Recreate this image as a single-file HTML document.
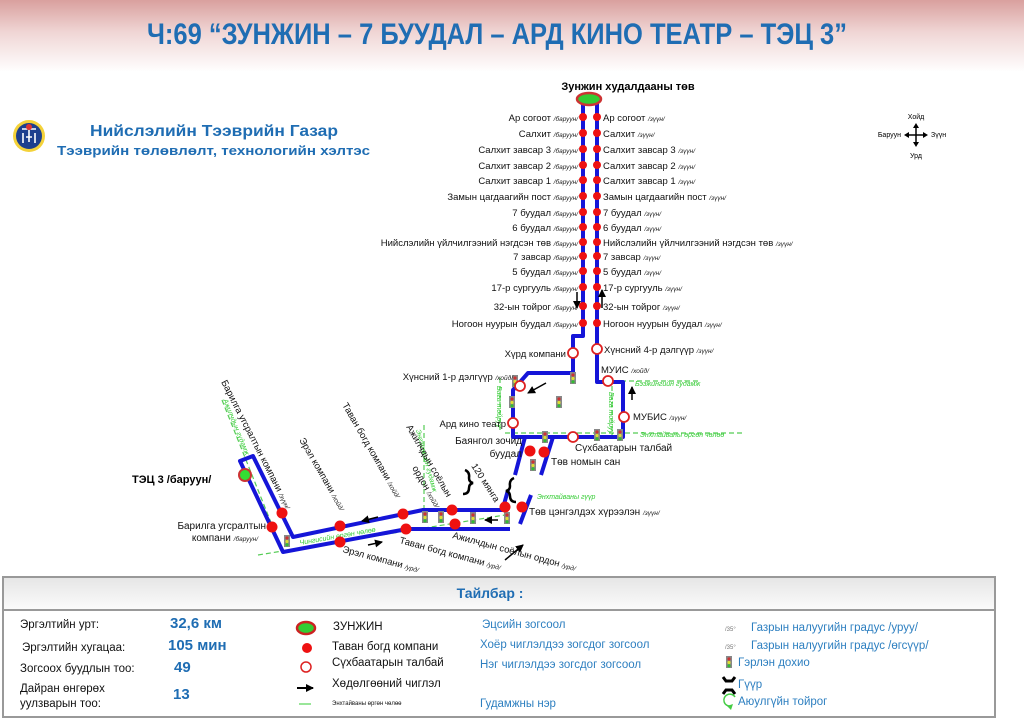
<!DOCTYPE html>
<html><head><meta charset="utf-8"><style>
html,body{margin:0;padding:0;background:#fff;width:1024px;height:721px;overflow:hidden}
svg{display:block}
text{font-family:"Liberation Sans",sans-serif}
.n{font-family:"Liberation Sans Narrow","Liberation Sans",sans-serif}
.l{font-size:9.5px;fill:#111}
.s{font-size:6.5px;font-style:italic;fill:#222}
.b{font-size:11px;fill:#111}
.g{font-size:7px;fill:#3c3;font-style:italic}
</style></head><body>
<svg width="1024" height="721" viewBox="0 0 1024 721" xmlns="http://www.w3.org/2000/svg">
<defs>
<linearGradient id="hd" x1="0" y1="0" x2="0" y2="1">
<stop offset="0" stop-color="#d9a09e"/><stop offset="0.45" stop-color="#f0d6d5"/><stop offset="1" stop-color="#ffffff"/>
</linearGradient>
<linearGradient id="lg" x1="0" y1="0" x2="0" y2="1">
<stop offset="0" stop-color="#e6e6e6"/><stop offset="1" stop-color="#fafafa"/>
</linearGradient>
<g id="tl"><rect x="-3" y="-6" width="6" height="12" fill="#888"/><circle cx="0" cy="-3" r="1.6" fill="#c33"/><circle cx="0" cy="0.5" r="1.6" fill="#dd3"/><circle cx="0" cy="3.8" r="1.6" fill="#3b3"/></g>
<marker id="ar" markerUnits="userSpaceOnUse" markerWidth="8" markerHeight="8" refX="7" refY="4" orient="auto"><path d="M0,0L8,4L0,8z" fill="#000"/></marker>
</defs>
<rect x="0" y="0" width="1024" height="72" fill="url(#hd)"/>
<text class="n" x="497" y="44" text-anchor="middle" font-size="30" font-weight="bold" fill="#1f6db3" textLength="700" lengthAdjust="spacingAndGlyphs">Ч:69 “ЗУНЖИН – 7 БУУДАЛ – АРД КИНО ТЕАТР – ТЭЦ 3”</text>

<!-- logo -->
<circle cx="29" cy="136" r="16" fill="#f4d23a"/><circle cx="29" cy="136" r="13" fill="#1d3f8e"/>
<path d="M22,129h14M23,133v10M35,133v10M26,137h6M29,130v12" stroke="#fff" stroke-width="1.6" fill="none"/>
<circle cx="29" cy="127" r="3" fill="#d33"/>
<text x="90" y="136" font-size="16" font-weight="bold" fill="#1f6db3" textLength="248" lengthAdjust="spacingAndGlyphs">Нийслэлийн Тээврийн Газар</text>
<text x="57" y="155" font-size="13" font-weight="bold" fill="#1f6db3" textLength="313" lengthAdjust="spacingAndGlyphs">Тээврийн төлөвлөлт, технологийн хэлтэс</text>

<!-- compass -->
<g transform="translate(916,135)">
<path d="M0,-9V9M-9,0H9" stroke="#000" stroke-width="1.5"/>
<path d="M0,-12l-3,5h6zM0,12l-3,-5h6zM-12,0l5,-3v6zM12,0l-5,-3v6z" fill="#000"/>
<text x="0" y="-16" font-size="7" text-anchor="middle">Хойд</text>
<text x="0" y="23" font-size="7" text-anchor="middle">Урд</text>
<text x="-15" y="2" font-size="7" text-anchor="end">Баруун</text>
<text x="15" y="2" font-size="7">Зүүн</text>
</g>

<!-- green dashed streets -->
<g stroke="#5c5" stroke-width="1.2" stroke-dasharray="5,3" fill="none">
<path d="M505,433H742"/>
<path d="M500,378V430"/>
<path d="M612,386V436"/>
<path d="M605,381H700"/>
<path d="M258,555L505,515"/>
<path d="M222,400L280,545"/>
<path d="M424,425V512"/>
</g>
<text class="g" x="635" y="386">Бээжингийн гудамж</text>
<text class="g" x="640" y="437">Энхтайваны өргөн чөлөө</text>
<text class="g" x="537" y="499">Энхтайваны гүүр</text>
<text class="g" transform="translate(497,386) rotate(90)">Бага тойруу</text>
<text class="g" transform="translate(609,392) rotate(90)">Бага тойруу</text>
<text class="g" transform="translate(300,545) rotate(-10)">Чингисийн өргөн чөлөө</text>
<text class="g" transform="translate(223,400) rotate(68)">Ажилчдын гудамж</text>
<text class="g" transform="translate(416,430) rotate(75)">Энгэльсийн гудамж</text>

<!-- route lines -->
<g stroke="#1515d8" stroke-width="4" fill="none" stroke-linejoin="round">
<path d="M583,100V336H573V373H528L513,390V437H623V382H597V100"/>
<path d="M525,437L515,475M508,490L503,508"/>
<path d="M553,437L541,475M531,495L520,524"/>
<path d="M505,510H423L293,537L253,456L240,461L283,552L407,529H510"/>
</g>
<path d="M465,470q5,2 4,8q0,4 4,5q-4,1 -4,5q0,6 -6,6" stroke="#000" stroke-width="2.5" fill="none"/>
<path d="M514,478q-5,2 -4,8q0,4 -4,5q4,1 4,5q0,6 6,6" stroke="#000" stroke-width="2.5" fill="none"/>

<!-- arrows -->
<g stroke="#000" stroke-width="1.5" marker-end="url(#ar)">
<path d="M577,292V308"/><path d="M602,308V290"/>
<path d="M546,383L528,393"/><path d="M632,400V387"/>
<path d="M498,520H485"/><path d="M505,560L523,545"/>
<path d="M378,517L362,521"/><path d="M368,545L382,542"/>
</g>

<!-- traffic lights -->
<use href="#tl" x="573" y="378"/><use href="#tl" x="515" y="381"/><use href="#tl" x="512" y="402"/>
<use href="#tl" x="559" y="402"/><use href="#tl" x="597" y="435"/><use href="#tl" x="620" y="435"/>
<use href="#tl" x="545" y="437"/><use href="#tl" x="533" y="465"/><use href="#tl" x="425" y="517"/>
<use href="#tl" x="441" y="517"/><use href="#tl" x="473" y="518"/><use href="#tl" x="507" y="518"/>
<use href="#tl" x="287" y="541"/>

<!-- terminal -->
<ellipse cx="589" cy="99" rx="12" ry="6" fill="#3c3" stroke="#c33" stroke-width="2.5"/>
<text x="628" y="90" font-size="11" font-weight="bold" text-anchor="middle">Зунжин худалдааны төв</text>
<circle cx="245" cy="475" r="6" fill="#3d3" stroke="#c33" stroke-width="2"/>
<text x="132" y="483" font-size="11" font-weight="bold">ТЭЦ 3 /баруун/</text>

<!-- vertical stops -->
<g fill="#e11">
<circle cx="583" cy="117" r="4"/><circle cx="597" cy="117" r="4"/>
<circle cx="583" cy="133" r="4"/><circle cx="597" cy="133" r="4"/>
<circle cx="583" cy="149" r="4"/><circle cx="597" cy="149" r="4"/>
<circle cx="583" cy="165" r="4"/><circle cx="597" cy="165" r="4"/>
<circle cx="583" cy="180" r="4"/><circle cx="597" cy="180" r="4"/>
<circle cx="583" cy="196" r="4"/><circle cx="597" cy="196" r="4"/>
<circle cx="583" cy="212" r="4"/><circle cx="597" cy="212" r="4"/>
<circle cx="583" cy="227" r="4"/><circle cx="597" cy="227" r="4"/>
<circle cx="583" cy="242" r="4"/><circle cx="597" cy="242" r="4"/>
<circle cx="583" cy="256" r="4"/><circle cx="597" cy="256" r="4"/>
<circle cx="583" cy="271" r="4"/><circle cx="597" cy="271" r="4"/>
<circle cx="583" cy="287" r="4"/><circle cx="597" cy="287" r="4"/>
<circle cx="583" cy="306" r="4"/><circle cx="597" cy="306" r="4"/>
<circle cx="583" cy="323" r="4"/><circle cx="597" cy="323" r="4"/>
<circle cx="530" cy="451" r="5.5"/><circle cx="544" cy="452" r="5.5"/>
<circle cx="505" cy="507" r="5.5"/><circle cx="522" cy="507" r="5.5"/>
<circle cx="452" cy="510" r="5.5"/><circle cx="455" cy="524" r="5.5"/>
<circle cx="403" cy="514" r="5.5"/><circle cx="406" cy="529" r="5.5"/>
<circle cx="340" cy="526" r="5.5"/><circle cx="340" cy="542" r="5.5"/>
<circle cx="282" cy="513" r="5.5"/><circle cx="272" cy="527" r="5.5"/>
</g>
<g fill="#fff" stroke="#d22" stroke-width="1.8">
<circle cx="573" cy="353" r="5"/><circle cx="597" cy="349" r="5"/>
<circle cx="520" cy="386" r="5"/><circle cx="513" cy="423" r="5"/>
<circle cx="608" cy="381" r="5"/><circle cx="624" cy="417" r="5"/>
<circle cx="573" cy="437" r="5"/>
</g>

<!-- left labels -->
<g text-anchor="end" class="l">
<text x="578" y="121">Ар согоот <tspan class="s">/баруун/</tspan></text>
<text x="578" y="137">Салхит <tspan class="s">/баруун/</tspan></text>
<text x="578" y="153">Салхит завсар 3 <tspan class="s">/баруун/</tspan></text>
<text x="578" y="169">Салхит завсар 2 <tspan class="s">/баруун/</tspan></text>
<text x="578" y="184">Салхит завсар 1 <tspan class="s">/баруун/</tspan></text>
<text x="578" y="200">Замын цагдаагийн пост <tspan class="s">/баруун/</tspan></text>
<text x="578" y="216">7 буудал <tspan class="s">/баруун/</tspan></text>
<text x="578" y="231">6 буудал <tspan class="s">/баруун/</tspan></text>
<text x="578" y="246">Нийслэлийн үйлчилгээний нэгдсэн төв <tspan class="s">/баруун/</tspan></text>
<text x="578" y="260">7 завсар <tspan class="s">/баруун/</tspan></text>
<text x="578" y="275">5 буудал <tspan class="s">/баруун/</tspan></text>
<text x="578" y="291">17-р сургууль <tspan class="s">/баруун/</tspan></text>
<text x="578" y="310">32-ын тойрог <tspan class="s">/баруун/</tspan></text>
<text x="578" y="327">Ногоон нуурын буудал <tspan class="s">/баруун/</tspan></text>
<text x="566" y="357">Хүрд компани</text>
<text x="513" y="380">Хүнсний 1-р дэлгүүр <tspan class="s">/хойд/</tspan></text>
<text x="506" y="427">Ард кино театр</text>
<text x="522" y="444" font-size="10">Баянгол зочид</text>
<text x="522" y="457" font-size="10">буудал</text>
<text x="266" y="529" font-size="10">Барилга угсралтын</text>
<text x="258" y="541" font-size="10">компани <tspan class="s">/баруун/</tspan></text>
</g>
<!-- right labels -->
<g class="l">
<text x="603" y="121">Ар согоот <tspan class="s">/зүүн/</tspan></text>
<text x="603" y="137">Салхит <tspan class="s">/зүүн/</tspan></text>
<text x="603" y="153">Салхит завсар 3 <tspan class="s">/зүүн/</tspan></text>
<text x="603" y="169">Салхит завсар 2 <tspan class="s">/зүүн/</tspan></text>
<text x="603" y="184">Салхит завсар 1 <tspan class="s">/зүүн/</tspan></text>
<text x="603" y="200">Замын цагдаагийн пост <tspan class="s">/зүүн/</tspan></text>
<text x="603" y="216">7 буудал <tspan class="s">/зүүн/</tspan></text>
<text x="603" y="231">6 буудал <tspan class="s">/зүүн/</tspan></text>
<text x="603" y="246">Нийслэлийн үйлчилгээний нэгдсэн төв <tspan class="s">/зүүн/</tspan></text>
<text x="603" y="260">7 завсар <tspan class="s">/зүүн/</tspan></text>
<text x="603" y="275">5 буудал <tspan class="s">/зүүн/</tspan></text>
<text x="603" y="291">17-р сургууль <tspan class="s">/зүүн/</tspan></text>
<text x="603" y="310">32-ын тойрог <tspan class="s">/зүүн/</tspan></text>
<text x="603" y="327">Ногоон нуурын буудал <tspan class="s">/зүүн/</tspan></text>
<text x="604" y="353">Хүнсний 4-р дэлгүүр <tspan class="s">/зүүн/</tspan></text>
<text x="601" y="373">МУИС <tspan class="s">/хойд/</tspan></text>
<text x="633" y="420">МУБИС <tspan class="s">/зүүн/</tspan></text>
<text x="575" y="451" font-size="10">Сүхбаатарын талбай</text>
<text x="551" y="465" font-size="10">Төв номын сан</text>
<text x="529" y="515" font-size="10">Төв цэнгэлдэх хүрээлэн <tspan class="s">/зүүн/</tspan></text>
</g>
<!-- rotated labels -->
<g class="l" font-size="10">
<text transform="translate(221,382) rotate(63)">Барилга угсралтын компани <tspan class="s">/зүүн/</tspan></text>
<text transform="translate(299,440) rotate(60)">Эрэл компани <tspan class="s">/хойд/</tspan></text>
<text transform="translate(342,405) rotate(60)">Таван богд компани <tspan class="s">/хойд/</tspan></text>
<text transform="translate(406,427) rotate(60)">Ажилчдын соёлын</text>
<text transform="translate(412,468) rotate(60)">ордон <tspan class="s">/хойд/</tspan></text>
<text transform="translate(471,466) rotate(57)">120 мянга</text>
<text transform="translate(342,552) rotate(15)">Эрэл компани <tspan class="s">/урд/</tspan></text>
<text transform="translate(399,543) rotate(15)">Таван богд компани <tspan class="s">/урд/</tspan></text>
<text transform="translate(452,538) rotate(15)">Ажилчдын соёлын ордон <tspan class="s">/урд/</tspan></text>
</g>

<!-- legend -->
<rect x="3" y="577" width="992" height="140" fill="#fff" stroke="#999" stroke-width="2"/>
<rect x="4" y="578" width="990" height="31" fill="url(#lg)"/>
<line x1="3" y1="610" x2="995" y2="610" stroke="#999" stroke-width="2"/>
<text class="n" x="490" y="598" font-size="14" font-weight="bold" fill="#1f6db3" text-anchor="middle">Тайлбар :</text>
<g class="n" font-size="11.5" fill="#111">
<text x="20" y="628">Эргэлтийн урт:</text>
<text x="22" y="651">Эргэлтийн хугацаа:</text>
<text x="20" y="672">Зогсоох буудлын тоо:</text>
<text x="20" y="692">Дайран өнгөрөх</text>
<text x="20" y="707">уулзварын тоо:</text>
</g>
<g class="n" font-size="15" font-weight="bold" fill="#1f6db3">
<text x="170" y="628">32,6 км</text><text x="168" y="650">105 мин</text>
<text x="174" y="672">49</text><text x="173" y="699">13</text>
</g>
<ellipse cx="306" cy="628" rx="9" ry="6" fill="#3c3" stroke="#c22" stroke-width="2.5"/>
<circle cx="307" cy="648" r="5" fill="#e11"/>
<circle cx="306" cy="667" r="5" fill="#fff" stroke="#d22" stroke-width="1.5"/>
<path d="M297,688H313" stroke="#000" stroke-width="2" marker-end="url(#ar)"/>
<line x1="299" y1="704" x2="311" y2="704" stroke="#7d7" stroke-width="1.5"/>
<g class="n" font-size="11.5" fill="#111">
<text x="333" y="630">ЗУНЖИН</text>
<text x="332" y="650">Таван богд компани</text>
<text x="332" y="666">Сүхбаатарын талбай</text>
<text x="332" y="687">Хөдөлгөөний чиглэл</text>
<text x="332" y="705" font-size="6">Энхтайваны өргөн чөлөө</text>
</g>
<g class="n" font-size="11.5" fill="#2d7fc0">
<text x="482" y="628">Эцсийн зогсоол</text>
<text x="480" y="648">Хоёр чиглэлдээ зогсдог зогсоол</text>
<text x="480" y="668">Нэг чиглэлдээ зогсдог зогсоол</text>
<text x="480" y="707">Гудамжны нэр</text>
<text x="751" y="631">Газрын налуугийн градус /уруу/</text>
<text x="751" y="649">Газрын налуугийн градус /өгсүүр/</text>
<text x="738" y="666">Гэрлэн дохио</text>
<text x="738" y="688">Гүүр</text>
<text x="738" y="705">Аюулгүйн тойрог</text>
</g>
<text x="725" y="631" font-size="6" fill="#777">/35°</text>
<text x="725" y="649" font-size="6" fill="#777">/35°</text>
<use href="#tl" x="729" y="662"/>
<path d="M723,677l3,4h6l3,-4M723,694l3,-4h6l3,4" stroke="#000" stroke-width="3" fill="none"/>
<path d="M731,706a6,6 0 1 1 4,-9" stroke="#4c4" stroke-width="1.5" fill="none"/>
<path d="M727,706l4,4 2,-6z" fill="#4c4"/>
</svg>
</body></html>
